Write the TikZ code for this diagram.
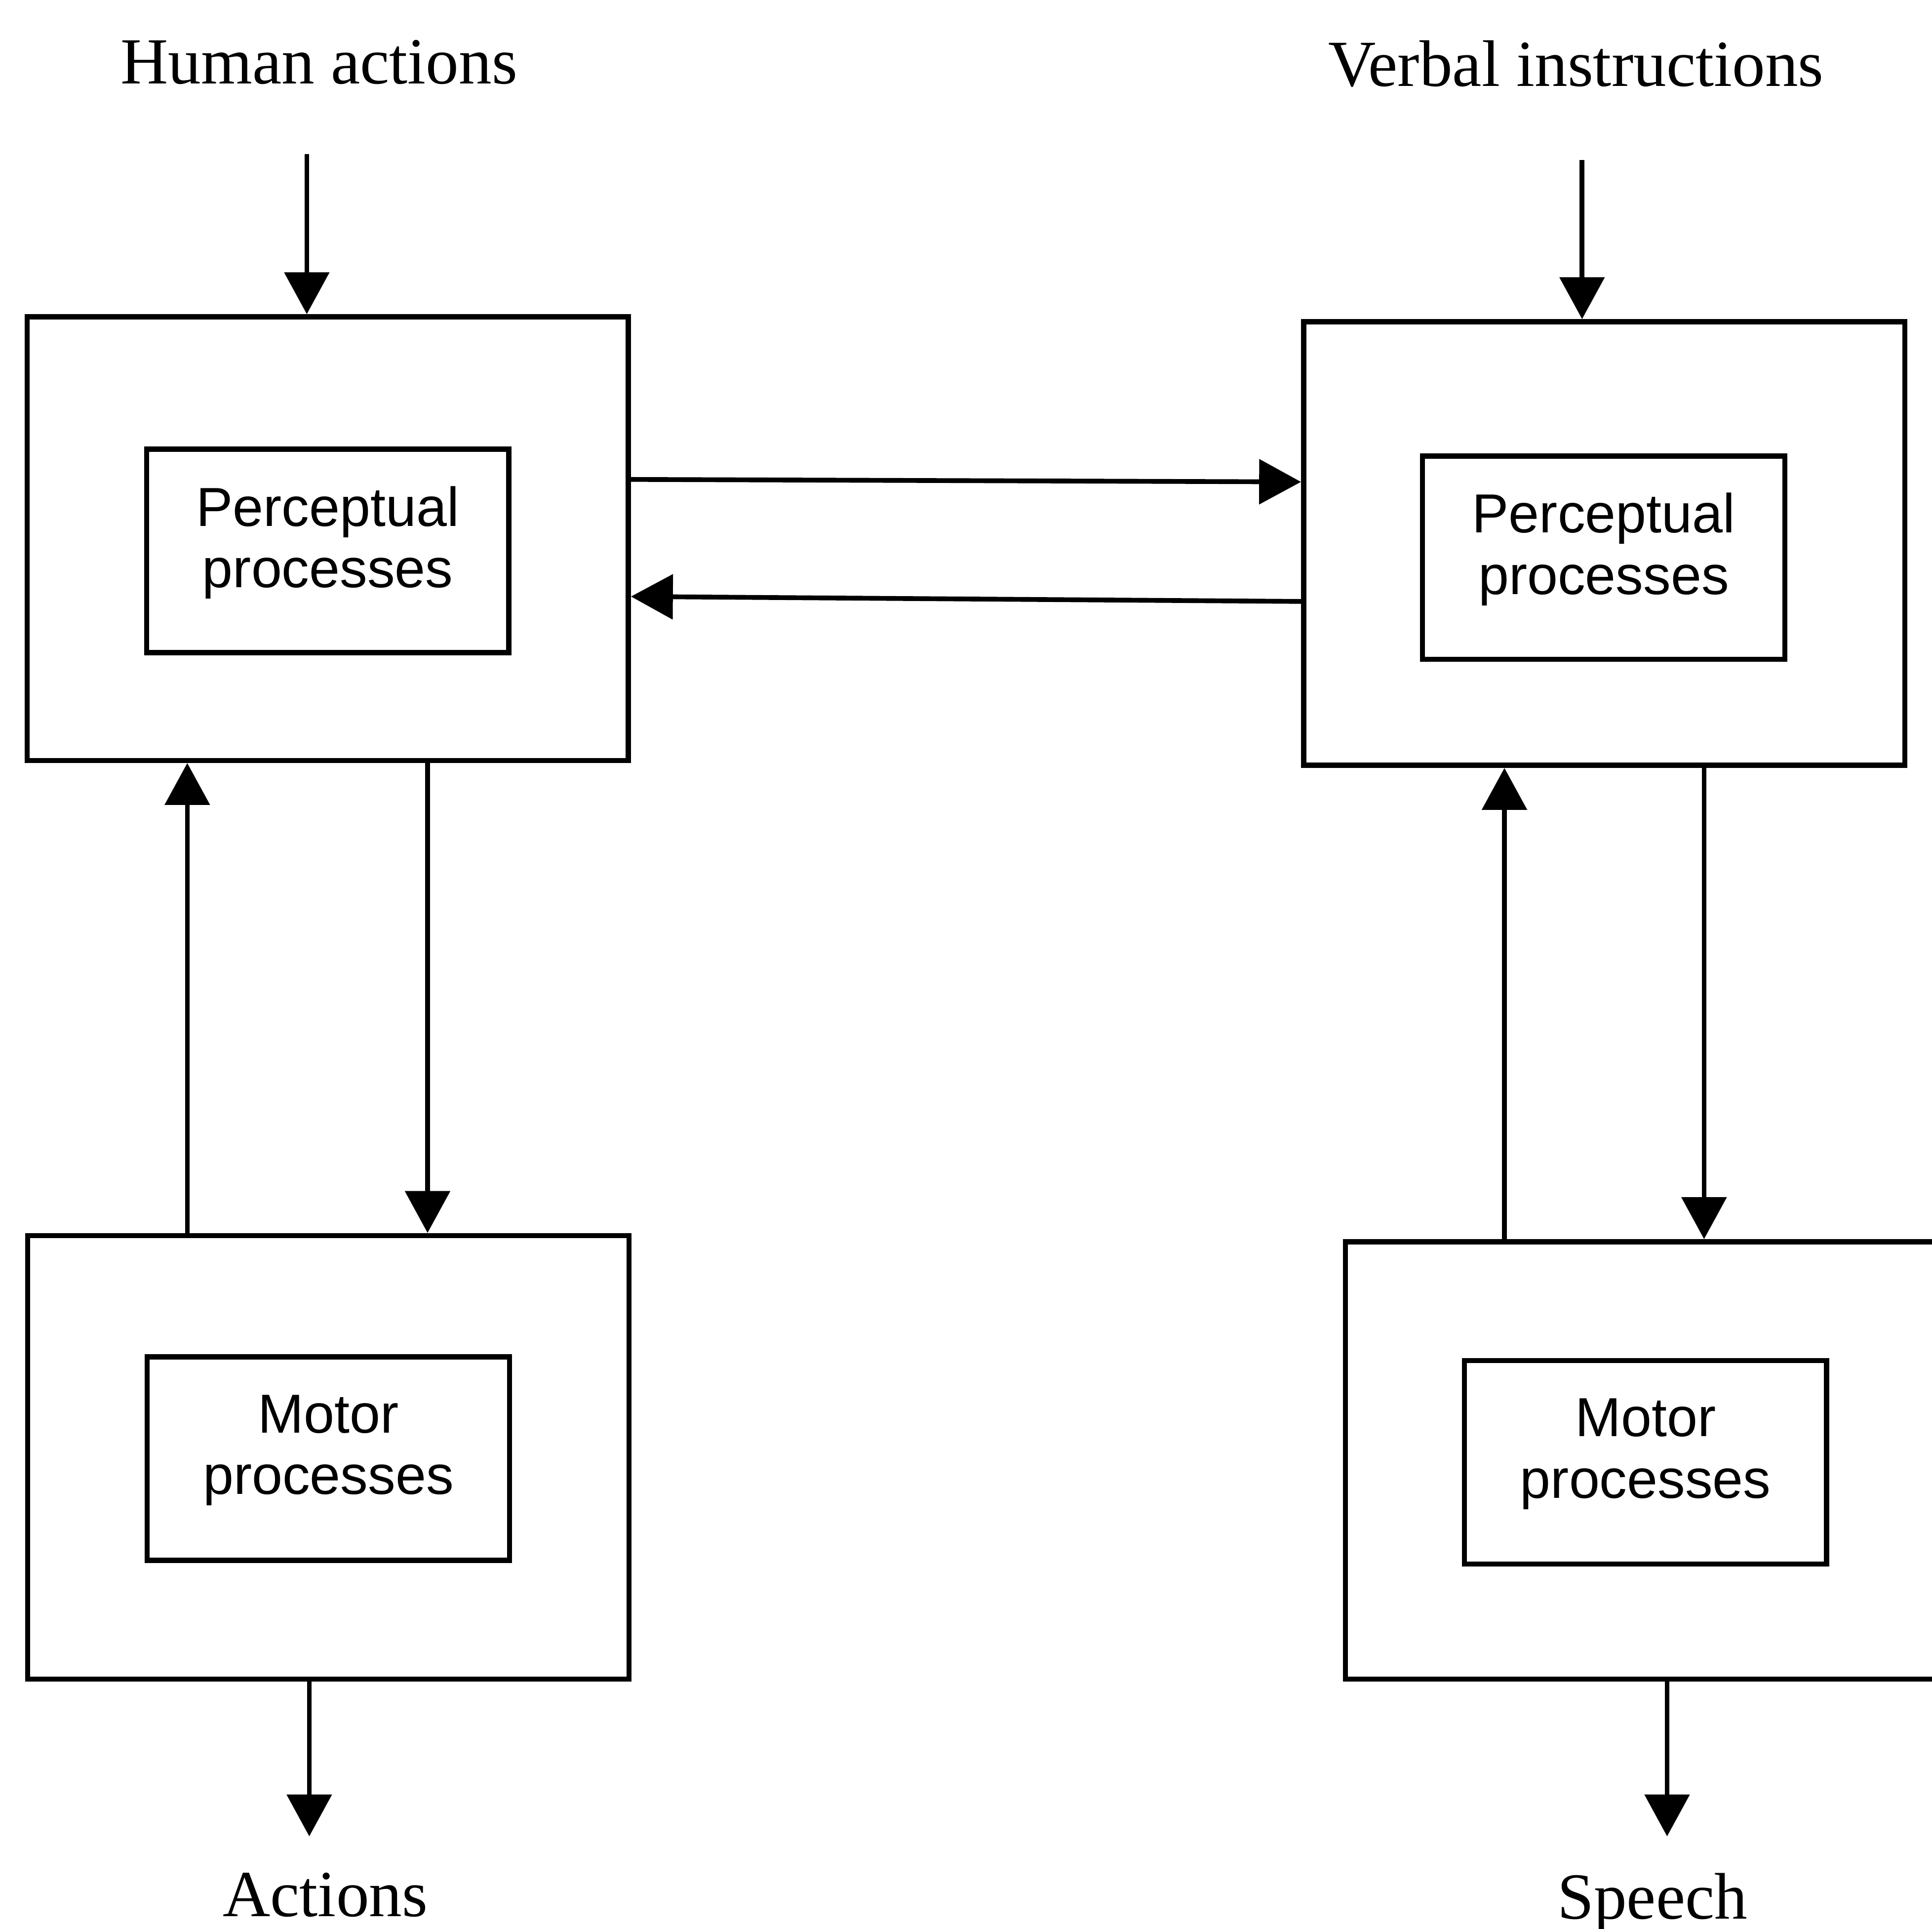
\documentclass[tikz,border=0pt]{standalone}
\usepackage{fontspec}
\setmainfont{Liberation Serif}
\newfontfamily\procfont{Liberation Sans}
\usetikzlibrary{arrows.meta}

\tikzset{
  outerbox/.style={draw, line width=1.2pt, minimum width=48.8mm, minimum height=36mm},
  procbox/.style={draw, line width=1.2pt, minimum width=29.4mm, minimum height=16.5mm,
    align=center, text depth=6.5pt, font={\procfont\fontsize{12.7pt}{14.2pt}\selectfont}},
  iolabel/.style={anchor=base, inner sep=0pt, font={\fontsize{15.2pt}{18pt}\selectfont}},
  flow/.style={line width=1.1pt, -{Triangle[length=3.4mm,width=3.6mm]}}
}

\begin{document}
\begin{tikzpicture}[x=0.1mm, y=-0.1mm]
\clip (0,0) rectangle (1568,1565);

% outer blocks
\node[outerbox] (pl) at (266,437) {};
\node[outerbox] (pr) at (1302,441) {};
\node[outerbox] (ml) at (266.5,1182.5) {};
\node[outerbox, minimum height=35.5mm] (mr) at (1336,1185) {};

% inner blocks
\node[procbox] (ppl) at (266,447) {Perceptual\\processes};
\node[procbox] (ppr) at (1301.5,452.5) {Perceptual\\processes};
\node[procbox] (mpl) at (266.5,1183.5) {Motor\\processes};
\node[procbox] (mpr) at (1335.5,1186.5) {Motor\\processes};

% inputs and outputs
\node[iolabel] (human) at (259,68) {Human actions};
\node[iolabel] (verbal) at (1279,70) {Verbal instructions};
\node[iolabel] (actions) at (264,1555) {Actions};
\node[iolabel] (speech) at (1341,1557) {Speech};

\coordinate (inL) at (249,125);
\coordinate (inR) at (1284,130);
\coordinate (outL) at (251,1490);
\coordinate (outR) at (1353,1490);

\draw[flow] (inL) -- (inL |- pl.north);
\draw[flow] (inR) -- (inR |- pr.north);
\draw[flow] (outL |- ml.south) -- (outL);
\draw[flow] (outR |- mr.south) -- (outR);

% between the two sides
\draw[flow] ([yshift=4.8mm]pl.east) -- ([yshift=5mm]pr.west);
\draw[flow] ([yshift=-4.7mm]pr.west) -- ([yshift=-4.7mm]pl.east);

% perceptual <-> motor
\coordinate (upL) at ([xshift=-11.4mm]pl.south);
\coordinate (dnL) at ([xshift=8.1mm]pl.south);
\coordinate (upR) at ([xshift=-8.1mm]pr.south);
\coordinate (dnR) at ([xshift=8.1mm]pr.south);

\draw[flow] (upL |- ml.north) -- (upL);
\draw[flow] (dnL) -- (dnL |- ml.north);
\draw[flow] (upR |- mr.north) -- (upR);
\draw[flow] (dnR) -- (dnR |- mr.north);

\end{tikzpicture}
\end{document}
